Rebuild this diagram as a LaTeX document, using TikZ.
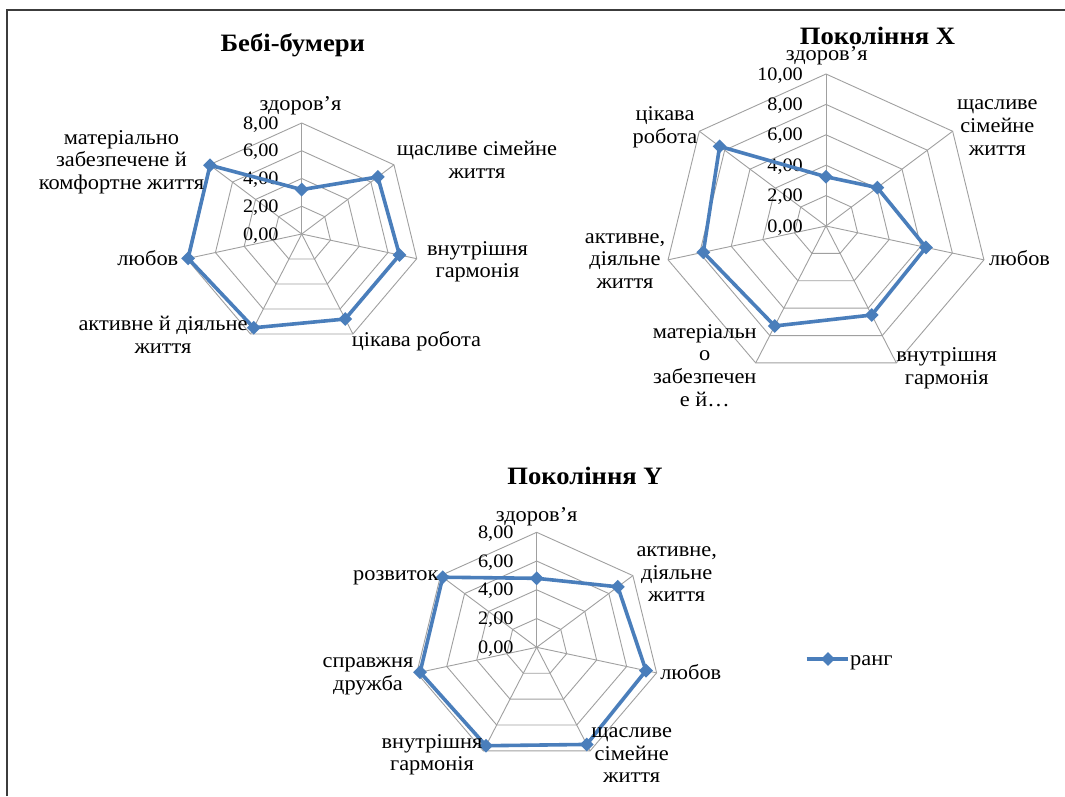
\documentclass[tikz,border=0pt]{standalone}
\usepackage{fontspec}
\setmainfont{Liberation Serif}[FakeStretch=1.065]
\usetikzlibrary{shapes.geometric}
\definecolor{series}{RGB}{74,126,187}
\definecolor{gridc}{RGB}{160,160,160}
\definecolor{framec}{RGB}{60,60,60}
\tikzset{
  gridline/.style={draw=gridc, line width=0.9pt},
  serline/.style={draw=series, line width=3.6pt, line join=round},
  mk/.style={diamond, fill=series, inner sep=0pt, minimum width=14pt, minimum height=14pt},
  lbl/.style={font=\fontsize{21}{22.6}\selectfont, align=center, inner sep=0pt, anchor=base},
  num/.style={font=\fontsize{19}{20}\selectfont, anchor=base east, inner sep=0pt},
  ttl/.style={font=\fontsize{25}{28}\selectfont\bfseries, anchor=base, inner sep=0pt},
}
% #1 prefix, #2 cx, #3 cy, #4 Rx, #5 Ry, #6 rings, #7 values (max = rings*2)
\newcommand{\myradar}[7]{%
  \coordinate (#1c) at (#2,#3);
  \foreach \k in {0,...,6}{
    \coordinate (#1o\k) at ({#2+#4*cos(90-\k*360/7)},{#3-#5*sin(90-\k*360/7)});
  }
  \foreach \r in {1,...,#6}{
    \draw[gridline] ({#2+#4*\r/#6*cos(90)},{#3-#5*\r/#6*sin(90)})
      \foreach \k in {1,...,6}{ -- ({#2+#4*\r/#6*cos(90-\k*360/7)},{#3-#5*\r/#6*sin(90-\k*360/7)}) } -- cycle;
  }
  \foreach \k in {0,...,6}{ \draw[gridline] (#1c) -- (#1o\k); }
  \foreach \r in {0,...,#6}{
    \node[num] (#1n\r) at ({#2-23},{#3-#5*\r/#6+6}) {\the\numexpr2*\r\relax,00};
  }
  \foreach \v [count=\i from 0] in {#7}{
    \coordinate (#1d\i) at ({#2+#4*\v/(2*#6)*cos(90-\i*360/7)},{#3-#5*\v/(2*#6)*sin(90-\i*360/7)});
  }
  \draw[serline] (#1d0) -- (#1d1) -- (#1d2) -- (#1d3) -- (#1d4) -- (#1d5) -- (#1d6) -- cycle;
  \foreach \i in {0,...,6}{ \node[mk] (#1m\i) at (#1d\i) {}; }
}
\begin{document}
\begin{tikzpicture}[x=1pt,y=-1pt]
\useasboundingbox (0,0) rectangle (1065,796);
\fill[white] (0,0) rectangle (1065,796);
% frame
\coordinate (fb) at (7.3,796);
\coordinate (fc) at (7.3,10);
\coordinate (fr) at (1065,10);
\draw[framec, line width=1.8pt] (fb) -- (fc) -- (fr);

% Chart 1
\myradar{a}{301.7}{234}{118}{111}{4}{3.2,6.6,6.8,6.8,7.5,7.9,7.95}
\node[ttl] (at) at (292.8,51.7) {Бебі-бумери};
\node[lbl] (al0) at (300.5,110) {здоров’я};
\node[lbl] (al1) at (477,178.3) {щасливе сімейне\\життя};
\node[lbl] (al2) at (477.5,277.7) {внутрішня\\гармонія};
\node[lbl] (al3) at (416.5,346.7) {цікава робота};
\node[lbl] (al4) at (163,353.3) {активне й діяльне\\життя};
\node[lbl] (al5) at (147.8,265) {любов};
\node[lbl] (al6) at (121.5,189.3) {матеріально\\забезпечене й\\комфортне життя};

% Chart 2
\myradar{b}{826}{226}{162}{152}{5}{3.24,4.05,6.33,6.5,7.3,7.77,8.4}
\node[ttl] (bt) at (877.5,44.5) {Покоління X};
\node[lbl] (bl0) at (826.7,60) {здоров’я};
\node[lbl] (bl1) at (997.3,155) {щасливе\\сімейне\\життя};
\node[lbl] (bl2) at (1019.5,265) {любов};
\node[lbl] (bl3) at (946.7,384) {внутрішня\\гармонія};
\node[lbl] (bl4) at (704.7,406) {матеріальн\\о\\забезпечен\\е й…};
\node[lbl] (bl5) at (625,288.3) {активне,\\діяльне\\життя};
\node[lbl] (bl6) at (665,143.3) {цікава\\робота};

% Chart 3
\myradar{c}{536.7}{647.3}{123}{115}{4}{4.8,6.75,7.29,7.5,7.6,7.78,7.82}
\node[ttl] (ct) at (585,484) {Покоління Y};
\node[lbl] (cl0) at (536.7,521.7) {здоров’я};
\node[lbl] (cl1) at (676.7,601.7) {активне,\\діяльне\\життя};
\node[lbl] (cl2) at (690.8,679.3) {любов};
\node[lbl] (cl3) at (631.7,782.7) {щасливе\\сімейне\\життя};
\node[lbl] (cl4) at (432,770.7) {внутрішня\\гармонія};
\node[lbl] (cl5) at (368,690) {справжня\\дружба};
\node[lbl] (cl6) at (395.8,580.7) {розвиток};

% Legend
\coordinate (lg1) at (806.7,659);
\coordinate (lg2) at (848.3,659);
\draw[serline] (lg1) -- (lg2);
\node[mk] (lgm) at (828,659) {};
\node[lbl, anchor=base west] (lgt) at (850,665) {ранг};
\end{tikzpicture}
\end{document}
